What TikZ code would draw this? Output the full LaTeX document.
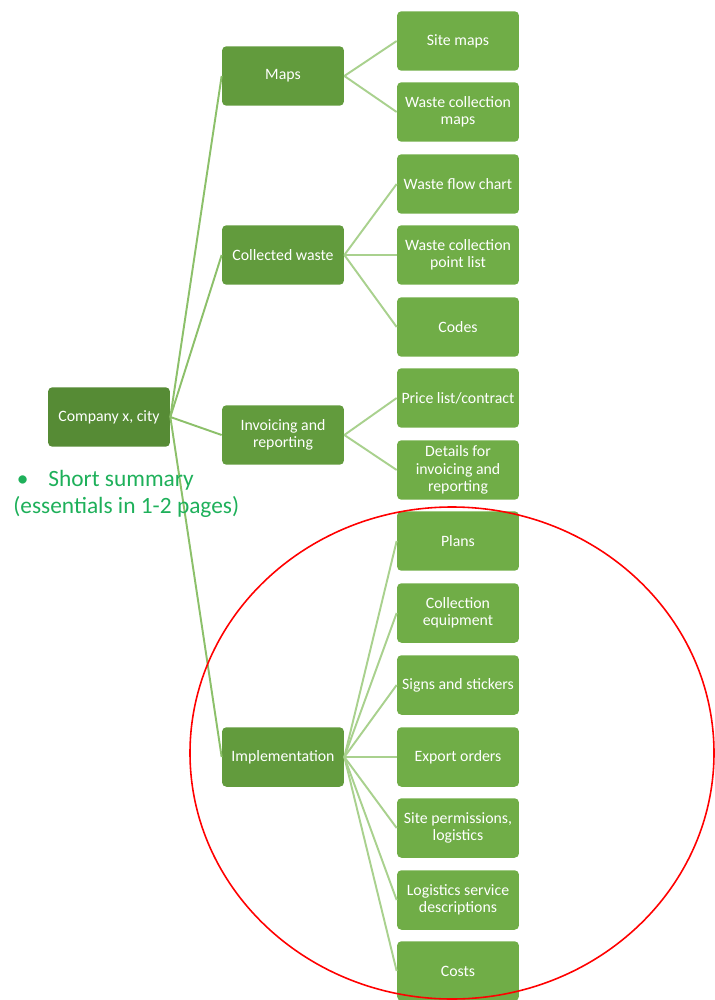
\documentclass[tikz,border=0pt]{standalone}
\usepackage{fontspec}
\setmainfont{Carlito}
\usepackage{tikz}

\definecolor{rootgreen}{HTML}{568B35}
\definecolor{midgreen}{HTML}{629B3D}
\definecolor{leafgreen}{HTML}{70AD47}
\definecolor{linkgreen}{HTML}{A9D18E}
\definecolor{rootlink}{HTML}{8CC06A}
\definecolor{notegreen}{HTML}{1EB05A}

\tikzset{
  box/.style={rounded corners=2.5pt, minimum width=2.44cm, minimum height=1.19cm,
    align=center, text=white, font=\fontsize{9}{9.8}\selectfont, inner sep=1pt},
  rootbox/.style={box, fill=rootgreen},
  midbox/.style={box, fill=midgreen},
  leafbox/.style={box, fill=leafgreen},
  link/.style={draw=linkgreen, line width=1.1pt},
  rootline/.style={draw=rootlink, line width=1.1pt}
}

\begin{document}
\begin{tikzpicture}[x=0.02cm, y=-0.02cm]
\useasboundingbox (0,0) rectangle (715,1000);
\clip (0,0) rectangle (715,1000);

%% root
\node[rootbox] (company) at (109,417) {Company x, city};

%% first level
\node[midbox] (maps) at (283,76) {Maps};
\node[midbox] (collected) at (283,255) {Collected waste};
\node[midbox] (invoicing) at (283,435) {Invoicing and\\reporting};
\node[midbox] (implementation) at (283,757) {Implementation};

%% second level
\node[leafbox] (sitemaps) at (458,41) {Site maps};
\node[leafbox] (collmaps) at (458,112) {Waste collection\\maps};
\node[leafbox] (flowchart) at (458,184) {Waste flow chart};
\node[leafbox] (pointlist) at (458,255) {Waste collection\\point list};
\node[leafbox] (codes) at (458,327) {Codes};
\node[leafbox] (pricelist) at (458,398) {Price list/contract};
\node[leafbox] (details) at (458,470) {Details for\\invoicing and\\reporting};
\node[leafbox] (plans) at (458,541) {Plans};
\node[leafbox] (equipment) at (458,613) {Collection\\equipment};
\node[leafbox] (signs) at (458,685) {Signs and stickers};
\node[leafbox] (export) at (458,757) {Export orders};
\node[leafbox] (permissions) at (458,828) {Site permissions,\\logistics};
\node[leafbox] (services) at (458,900) {Logistics service\\descriptions};
\node[leafbox] (costs) at (458,971) {Costs};

%% root links
\draw[rootline] (company.east) -- (maps.west);
\draw[rootline] (company.east) -- (collected.west);
\draw[rootline] (company.east) -- (invoicing.west);
\draw[rootline] (company.east) -- (implementation.west);

%% leaf links
\foreach \a/\b in {maps/sitemaps, maps/collmaps,
    collected/flowchart, collected/pointlist, collected/codes,
    invoicing/pricelist, invoicing/details,
    implementation/plans, implementation/equipment, implementation/signs,
    implementation/export, implementation/permissions, implementation/services,
    implementation/costs}
  \draw[link] (\a.east) -- (\b.west);

%% note
\node[anchor=north west, text=notegreen, align=left, inner sep=0pt,
  font=\fontsize{13.3}{15.3}\selectfont] (summary) at (13,470)
  {\hspace*{0.15em}\textbullet\hspace{0.85em}Short summary\\(essentials in 1-2 pages)};

%% red mark
\draw[red, line width=0.9pt] (452,753) ellipse (262 and 246);
\end{tikzpicture}
\end{document}
